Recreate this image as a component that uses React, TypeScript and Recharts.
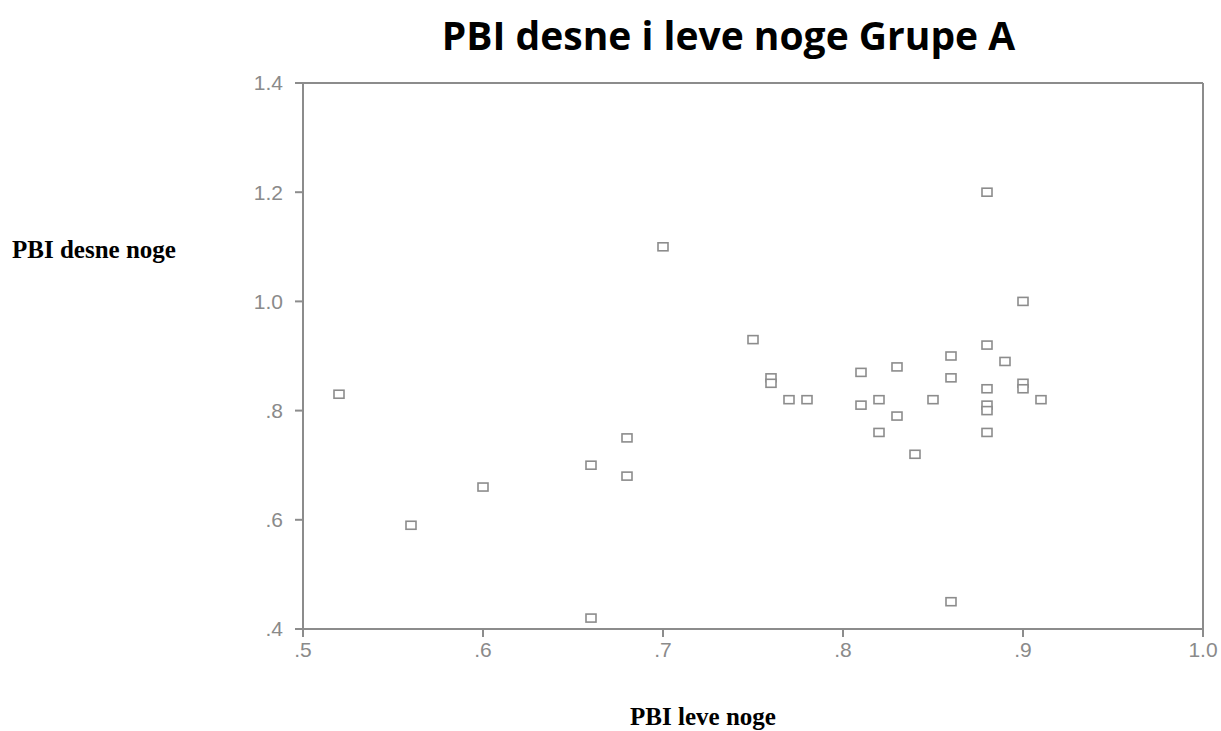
import { ScatterChart, Scatter, XAxis, YAxis, ReferenceLine } from 'recharts';

// PBI leve noge (x) and PBI desne noge (y)
const leveNoge = [
  0.52, 0.56, 0.6, 0.66, 0.66, 0.68, 0.68, 0.7, 0.75, 0.76, 0.76, 0.77,
  0.78, 0.81, 0.81, 0.82, 0.82, 0.83, 0.83, 0.84, 0.85, 0.86, 0.86, 0.86,
  0.88, 0.88, 0.88, 0.88, 0.88, 0.88, 0.89, 0.9, 0.9, 0.9, 0.91,
];
const desneNoge = [
  0.83, 0.59, 0.66, 0.7, 0.42, 0.75, 0.68, 1.1, 0.93, 0.86, 0.85, 0.82,
  0.82, 0.87, 0.81, 0.82, 0.76, 0.88, 0.79, 0.72, 0.82, 0.9, 0.86, 0.45,
  1.2, 0.92, 0.84, 0.81, 0.8, 0.76, 0.89, 1.0, 0.85, 0.84, 0.82,
];
const xTicks = [0.5, 0.6, 0.7, 0.8, 0.9, 1.0];
const yTicks = [0.4, 0.6, 0.8, 1.0, 1.2, 1.4];

const points = leveNoge.map((x, i) => ({ x, y: desneNoge[i] }));

const GRAY = '#8c8c8c';
const tickStyle = { fill: '#8a8a8a', fontSize: 21, fontFamily: '"Liberation Sans", Arial, sans-serif' };

// SPSS style decimals: ".6" instead of "0.6"
const fmt = (v: number) => {
  const s = v.toFixed(1);
  return s.startsWith('0') ? s.slice(1) : s;
};

const SquareMark = (props: any) => {
  const { cx, cy } = props;
  return <rect x={cx - 5} y={cy - 4} width={10} height={8} fill="#fff" stroke={GRAY} strokeWidth={1.6} />;
};

export default function App() {
  return (
    <div style={{ position: 'absolute', left: 0, top: 0, width: 1221, height: 731, background: '#fff' }}>
      <div
        style={{
          position: 'absolute',
          left: 0,
          width: 1221,
          paddingLeft: 236,
          boxSizing: 'border-box',
          top: 8,
          textAlign: 'center',
          fontFamily: '"Open Sans", sans-serif',
          fontWeight: 'bold',
          fontSize: 39,
          color: '#000',
          whiteSpace: 'nowrap',
        }}
      >
        PBI desne i leve noge Grupe A
      </div>
      <div
        style={{
          position: 'absolute',
          left: 12,
          top: 236,
          fontFamily: '"Liberation Serif", serif',
          fontWeight: 'bold',
          fontSize: 25,
          whiteSpace: 'nowrap',
        }}
      >
        PBI desne noge
      </div>
      <div
        style={{
          position: 'absolute',
          left: 0,
          width: 1221,
          paddingLeft: 185,
          boxSizing: 'border-box',
          top: 703,
          textAlign: 'center',
          fontFamily: '"Liberation Serif", serif',
          fontWeight: 'bold',
          fontSize: 25,
          whiteSpace: 'nowrap',
        }}
      >
        PBI leve noge
      </div>
      <div style={{ position: 'absolute', left: 0, top: 0 }}>
        <ScatterChart width={1221} height={731} margin={{ top: 83, right: 18, bottom: 72, left: 243 }}>
          <XAxis
            type="number"
            dataKey="x"
            domain={[0.5, 1.0]}
            ticks={xTicks}
            tickFormatter={fmt}
            stroke={GRAY}
            strokeWidth={2}
            tickSize={8}
            tickMargin={5}
            height={30}
            tick={tickStyle}
          />
          <YAxis
            type="number"
            dataKey="y"
            domain={[0.4, 1.4]}
            ticks={yTicks}
            tickFormatter={fmt}
            stroke={GRAY}
            strokeWidth={2}
            tickSize={8}
            tickMargin={12}
            width={60}
            tick={tickStyle}
          />
          <ReferenceLine y={1.4} stroke={GRAY} strokeWidth={2} />
          <ReferenceLine x={1.0} stroke={GRAY} strokeWidth={2} />
          <Scatter data={points} shape={SquareMark} isAnimationActive={false} />
        </ScatterChart>
      </div>
    </div>
  );
}
